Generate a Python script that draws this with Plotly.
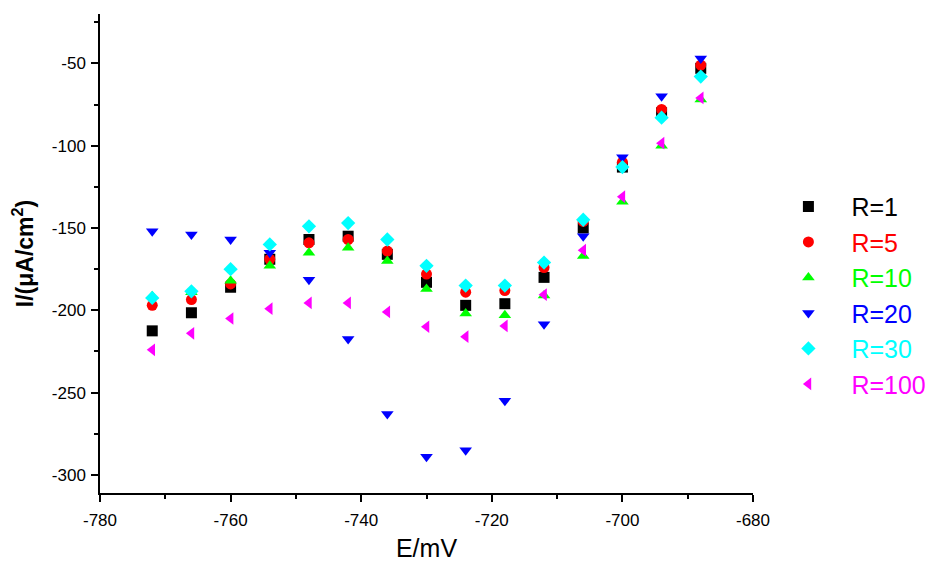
import plotly.graph_objects as go

E = [-772, -766, -760, -754, -748, -742, -736, -730, -724, -718, -712, -706, -700, -694, -688]

R1 = [-212.5, -201.5, -186, -169, -157, -155, -166, -183, -197, -196, -180, -150, -113, -80, -53]
R5 = [-197, -193.5, -184, -169, -159, -157, -164, -178, -189, -188, -174, -146, -110, -78, -51]
R10 = [-191.5, -189, -182, -173, -165, -162, -170, -187, -202, -203, -191, -167, -134, -100, -72]
R20 = [-152, -154, -157, -165, -181.5, -217.5, -263, -289, -285, -255, -208.5, -155, -107, -70, -47]
R30 = [-192.5, -188.5, -175, -160, -149, -147, -157, -173, -185, -185, -171, -145, -113, -83, -58]
R100 = [-224, -214, -205, -199, -195.5, -195.5, -201, -210, -216, -209.5, -190.5, -163.5, -131, -98.5, -71]

x_ticks = [-780, -760, -740, -720, -700, -680]
x_ticktext = ["-780", "-760", "-740", "-720", "-700", "-680"]
y_ticks = [-300, -250, -200, -150, -100, -50]
y_ticktext = ["-300", "-250", "-200", "-150", "-100", "-50"]

series = [
    ("R=1", R1, "#000000", "square"),
    ("R=5", R5, "#ff0000", "circle"),
    ("R=10", R10, "#00ff00", "triangle-up"),
    ("R=20", R20, "#0000ff", "triangle-down"),
    ("R=30", R30, "#00ffff", "diamond"),
    ("R=100", R100, "#ff00ff", "triangle-left"),
]

fig = go.Figure()
for name, ys, color, sym in series:
    fig.add_trace(go.Scatter(
        x=E, y=ys, mode="markers",
        name=f'<span style="color:{color}">{name}</span>',
        marker=dict(symbol=sym, color=color, size=11, line=dict(width=0)),
    ))

FONT = "Liberation Sans, Arial"
axis_common = dict(
    showline=True, linecolor="black", linewidth=1.5,
    ticks="outside", ticklen=7, tickwidth=1.5, tickcolor="black",
    showgrid=False, zeroline=False, mirror=False, automargin=True,
    tickfont=dict(family=FONT, size=17, color="black"),
)

fig.update_xaxes(
    range=[-780, -680], tickvals=x_ticks, ticktext=x_ticktext,
    minor=dict(ticks="outside", ticklen=4, tickwidth=1.5, tickcolor="black", dtick=10, tick0=-780),
    ticklabelstandoff=4,
    title=dict(text="E/mV", font=dict(family=FONT, size=25, color="black"), standoff=12),
    **axis_common,
)
fig.update_yaxes(
    range=[-311, -20], tickvals=y_ticks, ticktext=y_ticktext,
    minor=dict(ticks="outside", ticklen=4, tickwidth=1.5, tickcolor="black", dtick=25, tick0=-300),
    ticklabelstandoff=2,
    title=dict(text="<b>I/(μA/cm<sup>2</sup>)</b>", font=dict(family=FONT, size=23, color="black"), standoff=12),
    **axis_common,
)

fig.update_layout(
    width=934, height=562,
    margin=dict(l=100, r=181, t=14, b=69, autoexpand=False),
    plot_bgcolor="white", paper_bgcolor="white",
    legend=dict(
        x=1.019, y=0.413, xanchor="left", yanchor="middle",
        font=dict(family=FONT, size=25),
        itemwidth=76,
        bgcolor="rgba(0,0,0,0)",
    ),
)

fig.write_html("out.html")
